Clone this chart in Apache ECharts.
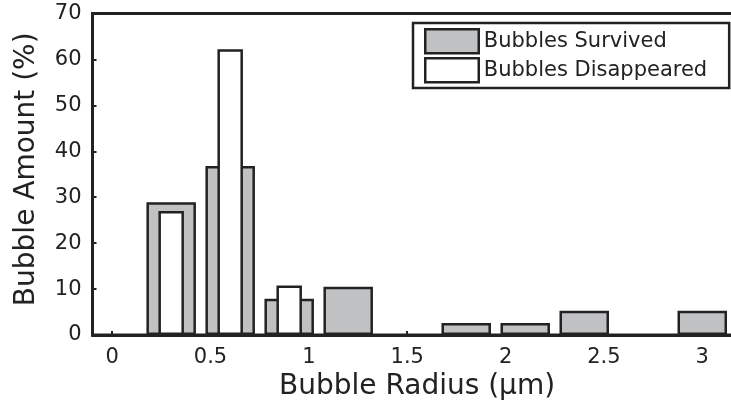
<!DOCTYPE html>
<html>
<head>
<meta charset="utf-8">
<script src="https://cdn.jsdelivr.net/npm/echarts@6/dist/echarts.min.js"></script>
<style>
html,body{margin:0;padding:0;background:#fff;}
#chart{width:731px;height:402px;}
</style>
</head>
<body>
<div id="chart"></div>
<script>
// Bubble radius bins (µm)
var radii = [0.3, 0.6, 0.9, 1.2, 1.5, 1.8, 2.1, 2.4, 2.7, 3.0];
// Bubble amount (%) per bin
var survived = [28.9, 36.8, 7.9, 10.5, 0, 2.6, 2.6, 5.3, 0, 5.3];
var disappeared = [27.0, 62.2, 10.8, 0, 0, 0, 0, 0, 0, 0];
// Axis ticks
var xTicks = [0, 0.5, 1, 1.5, 2, 2.5, 3];
var yTicks = [0, 10, 20, 30, 40, 50, 60, 70];
var seriesNames = ['Bubbles Survived', 'Bubbles Disappeared'];

function pairs(vals) {
  var out = [];
  for (var i = 0; i < radii.length; i++) {
    if (vals[i] > 0) out.push([radii[i], vals[i]]);
  }
  return out;
}

var FONT = 'DejaVu Sans';
var INK = '#222222';
var GRAY = '#c0c1c3';

var xMin = -0.1, xMax = 3.2;

var chart = echarts.init(document.getElementById('chart'), null, {renderer: 'canvas'});
var xAxisBase = {
  type: 'value',
  min: xMin,
  max: xMax,
  splitLine: {show: false}
};
chart.setOption({
  animation: false,
  backgroundColor: '#ffffff',
  textStyle: {fontFamily: FONT},
  grid: {
    left: 92.5, top: 13.5, width: 649.1, height: 321.5,
    outerBoundsMode: 'none',
    containLabel: false,
    show: true, borderColor: INK, borderWidth: 3, backgroundColor: 'transparent'
  },
  legend: {
    data: [
      {name: seriesNames[0], itemStyle: {color: GRAY, borderColor: INK, borderWidth: 2.5}},
      {name: seriesNames[1], itemStyle: {color: '#ffffff', borderColor: INK, borderWidth: 2.5}}
    ],
    orient: 'vertical',
    left: 413, top: 23,
    padding: [5, 22, 4.5, 11],
    itemWidth: 53.5, itemHeight: 24, itemGap: 2.5,
    icon: 'rect',
    backgroundColor: '#ffffff',
    borderColor: INK, borderWidth: 2.5, borderRadius: 0,
    selectedMode: false,
    textStyle: {fontFamily: FONT, fontSize: 21, color: INK}
  },
  xAxis: [
    Object.assign({}, xAxisBase, {
      name: 'Bubble Radius (μm)',
      nameLocation: 'middle',
      nameGap: 38,
      nameTextStyle: {fontFamily: FONT, fontSize: 28, color: INK},
      axisLine: {show: true, onZero: false, lineStyle: {color: INK, width: 3}},
      axisTick: {show: true, inside: true, length: 4, customValues: xTicks, lineStyle: {color: INK, width: 2}},
      axisLabel: {show: true, customValues: xTicks, margin: 12, fontFamily: FONT, fontSize: 21, color: INK,
        formatter: function (v) { return String(v); }}
    }),
    Object.assign({}, xAxisBase, {
      show: false
    })
  ],
  yAxis: {
    type: 'value',
    min: yTicks[0],
    max: yTicks[yTicks.length - 1],
    interval: 10,
    name: 'Bubble Amount (%)',
    nameLocation: 'middle',
    nameGap: 52,
    nameTextStyle: {fontFamily: FONT, fontSize: 28, color: INK, padding: [0, 0, 0, 10]},
    splitLine: {show: false},
    axisLine: {show: true, onZero: false, lineStyle: {color: INK, width: 3}},
    axisTick: {show: true, inside: true, length: 4, lineStyle: {color: INK, width: 2}},
    axisLabel: {margin: 11, fontFamily: FONT, fontSize: 21, color: INK}
  },
  series: [
    {
      name: seriesNames[0],
      type: 'bar',
      xAxisIndex: 0,
      barWidth: 49.5,
      data: pairs(survived),
      itemStyle: {color: GRAY, borderColor: INK, borderWidth: 2.5},
      emphasis: {disabled: true}
    },
    {
      name: seriesNames[1],
      type: 'bar',
      xAxisIndex: 1,
      barWidth: 25.5,
      data: pairs(disappeared),
      itemStyle: {color: '#ffffff', borderColor: INK, borderWidth: 2.5},
      emphasis: {disabled: true}
    }
  ]
});
</script>
</body>
</html>
